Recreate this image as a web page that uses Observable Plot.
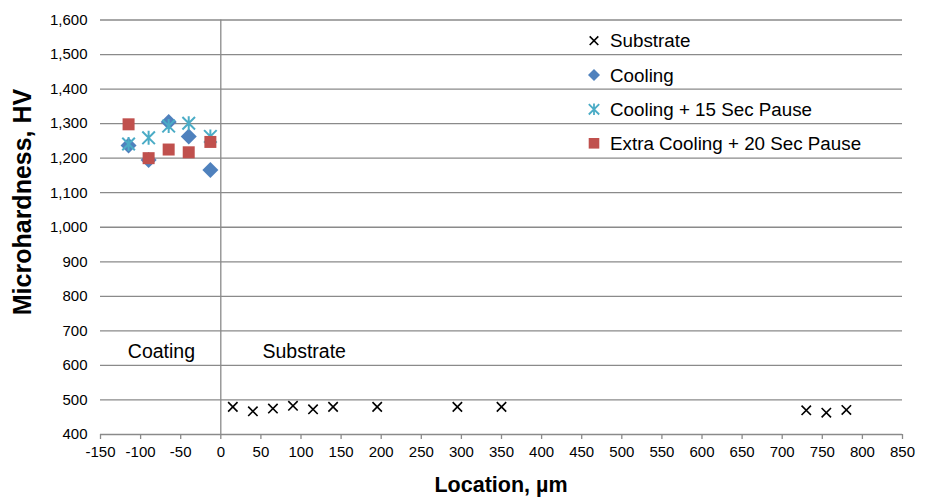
<!DOCTYPE html>
<html><head><meta charset="utf-8">
<script src="https://cdn.jsdelivr.net/npm/d3@7"></script>
<script src="https://cdn.jsdelivr.net/npm/@observablehq/plot@0.6"></script>
<style>
html,body{margin:0;padding:0;background:#fff;}
#wrap{position:relative;width:930px;height:498px;}
</style></head><body><div id="wrap"></div>
<script>
// ---- data ----
const coatingX = [-115, -90, -65, -40, -13];
const coolingHV = [1237, 1195, 1305, 1263, 1166];
const cooling15HV = [1241, 1259, 1293, 1301, 1263];
const extra20HV = [1298, 1200, 1225, 1217, 1247];
const substrateX = [15, 40, 65, 90, 115, 140, 195, 295, 350, 730, 755, 780];
const substrateHV = [480, 467, 475, 483, 473, 480, 480, 480, 480, 470, 463, 471];
const seriesNames = ["Substrate", "Cooling", "Cooling + 15 Sec Pause", "Extra Cooling + 20 Sec Pause"];
const seriesColors = ["#000000", "#4F81BD", "#4BACC6", "#C0504D"];
const xTicks = [-150, -100, -50, 0, 50, 100, 150, 200, 250, 300, 350, 400, 450, 500, 550, 600, 650, 700, 750, 800, 850];
const yTicks = [400, 500, 600, 700, 800, 900, 1000, 1100, 1200, 1300, 1400, 1500, 1600];
const regionLabels = ["Coating", "Substrate"];
const regionX = [-74, 104];
const regionY = [640, 640];
const xTitle = "Location, µm";
const yTitle = "Microhardness, HV";

// ---- symbols ----
const R = s => Math.sqrt(s / Math.PI);
const symTimes = {draw(c, s){const r = R(s); c.moveTo(-r,-r); c.lineTo(r,r); c.moveTo(-r,r); c.lineTo(r,-r);}};
const symStar = {draw(c, s){const r = R(s); c.moveTo(-r,-r); c.lineTo(r,r); c.moveTo(-r,r); c.lineTo(r,-r); c.moveTo(0,-r*1.1); c.lineTo(0,r*1.1);}};
const symDiamond = {draw(c, s){const r = R(s); c.moveTo(0,-r); c.lineTo(r,0); c.lineTo(0,r); c.lineTo(-r,0); c.closePath();}};
const symSquare = {draw(c, s){const r = R(s); c.rect(-r,-r,2*r,2*r);}};

const substrate = substrateX.map((x, i) => ({x, y: substrateHV[i]}));
const mk = arr => coatingX.map((x, i) => ({x, y: arr[i]}));
const regions = regionLabels.map((t, i) => ({t, x: regionX[i], y: regionY[i]}));

const grid = "#8a8a8a";
const font = "Liberation Sans, Arial, sans-serif";

const svg = Plot.plot({
  width: 930, height: 498,
  marginLeft: 100, marginRight: 28, marginTop: 19.5, marginBottom: 64,
  style: {fontFamily: font, fontSize: "15px", color: "#000", background: "#fff"},
  x: {domain: [-150, 850]},
  y: {domain: [400, 1600]},
  marks: [
    Plot.gridY({ticks: yTicks, stroke: grid, strokeOpacity: 1, strokeWidth: 1.3}),
    Plot.ruleX([0], {stroke: grid, strokeWidth: 1.3}),
    Plot.axisY({ticks: yTicks, tickFormat: d3.format(","), tickSize: 0, tickPadding: 13, fontSize: 15, fill: "#000", label: null}),
    Plot.axisX({ticks: xTicks, tickFormat: d => String(d), tickSize: 5, tickPadding: 7, stroke: grid, strokeWidth: 1.3, fill: "#000", fontSize: 15, label: null}),
    Plot.text(regions, {x: "x", y: "y", text: "t", fontSize: 19.5, fill: "#000", textAnchor: "middle"}),
    Plot.dot(substrate, {x: "x", y: "y", symbol: symTimes, r: 4.7, stroke: seriesColors[0], strokeWidth: 1.6, fill: "none"}),
    Plot.dot(mk(coolingHV), {x: "x", y: "y", symbol: symDiamond, r: 8, fill: seriesColors[1], stroke: "none"}),
    Plot.dot(mk(cooling15HV), {x: "x", y: "y", symbol: symStar, r: 6.3, stroke: seriesColors[2], strokeWidth: 2, fill: "none"}),
    Plot.dot(mk(extra20HV), {x: "x", y: "y", symbol: symSquare, r: 6, fill: seriesColors[3], stroke: "none"})
  ]
});
document.getElementById("wrap").appendChild(svg);

const s = d3.select(svg);
s.append("text").attr("x", 501).attr("y", 491.5).attr("text-anchor", "middle")
  .attr("font-family", font).attr("font-weight", "bold").attr("font-size", 21.5).attr("fill", "#000").text(xTitle);
s.append("text").attr("transform", "translate(31,202) rotate(-90)").attr("text-anchor", "middle")
  .attr("font-family", font).attr("font-weight", "bold").attr("font-size", 25).attr("fill", "#000").text(yTitle);

// legend
const legSyms = [symTimes, symDiamond, symStar, symSquare];
const legR = [4.3, 6, 5.2, 5.3];
const legY = [40.7, 75, 109.3, 143.3];
const lg = s.append("g");
seriesNames.forEach((name, i) => {
  const g = lg.append("g").attr("transform", `translate(594,${legY[i]})`);
  const size = Math.PI * legR[i] * legR[i];
  const p = d3.path(); legSyms[i].draw(p, size);
  const filled = i === 1 || i === 3;
  g.append("path").attr("d", p.toString())
    .attr("fill", filled ? seriesColors[i] : "none")
    .attr("stroke", filled ? "none" : seriesColors[i])
    .attr("stroke-width", i === 0 ? 1.6 : 1.8);
  g.append("text").attr("x", 16).attr("dy", "0.35em").attr("text-anchor", "start").attr("font-family", font)
    .attr("font-size", 18.8).attr("fill", "#000").text(name);
});
</script></body></html>
